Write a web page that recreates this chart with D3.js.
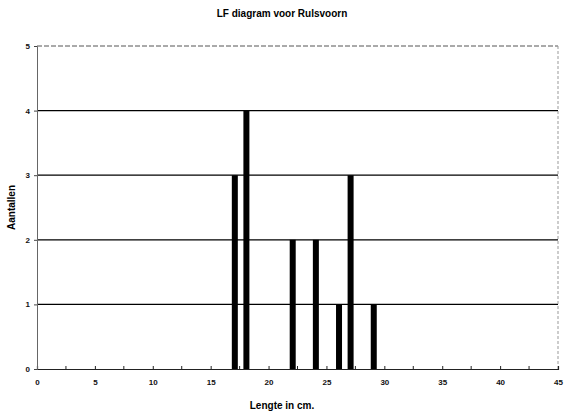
<!DOCTYPE html>
<html>
<head>
<meta charset="utf-8">
<script src="https://cdn.jsdelivr.net/npm/d3@7"></script>
<style>
  html, body { margin: 0; padding: 0; background: #fff; }
  svg { display: block; font-family: "Liberation Sans", Arial, sans-serif; }
</style>
</head>
<body>
<svg id="chart" width="564" height="415"></svg>
<script>
// Length-frequency data for Ruisvoorn
const lengths = [17, 18, 22, 24, 26, 27, 29];
const counts  = [3, 4, 2, 2, 1, 3, 1];
const xTickValues = [0, 5, 10, 15, 20, 25, 30, 35, 40, 45];
const xMinorTicks = [2.5, 7.5, 12.5, 17.5, 22.5, 27.5, 32.5, 37.5, 42.5];
const yTickValues = [0, 1, 2, 3, 4, 5];

const svg = d3.select("#chart");
const margin = { left: 37, right: 6, top: 46, bottom: 46 };
const W = 564, H = 415;

const x = d3.scaleLinear().domain([0, 45]).range([margin.left, W - margin.right]);
const y = d3.scaleLinear().domain([0, 5]).range([H - margin.bottom, margin.top]);

// Horizontal gridlines
svg.append("g")
  .selectAll("line")
  .data(yTickValues.filter(v => v > 0 && v < 5))
  .join("line")
  .attr("x1", x(0)).attr("x2", x(45))
  .attr("y1", d => y(d)).attr("y2", d => y(d))
  .attr("stroke", "#000").attr("stroke-width", 1.3);

// Top and right frame (light dashed)
svg.append("line")
  .attr("x1", x(0)).attr("x2", x(45))
  .attr("y1", y(5)).attr("y2", y(5))
  .attr("stroke", "#555").attr("stroke-width", 1)
  .attr("stroke-dasharray", "5,2");
svg.append("line")
  .attr("x1", x(45)).attr("x2", x(45))
  .attr("y1", y(5)).attr("y2", y(0))
  .attr("stroke", "#999").attr("stroke-width", 1)
  .attr("stroke-dasharray", "3,2");

// Bars
const barW = 6;
svg.append("g")
  .selectAll("rect")
  .data(lengths.map((l, i) => ({ l, c: counts[i] })))
  .join("rect")
  .attr("x", d => x(d.l) - barW / 2 + 1)
  .attr("width", barW)
  .attr("y", d => y(d.c))
  .attr("height", d => y(0) - y(d.c))
  .attr("fill", "#000");

// X axis
const xAxis = svg.append("g")
  .attr("transform", `translate(0,${y(0)})`)
  .call(d3.axisBottom(x).tickValues(xTickValues).tickSize(-3).tickPadding(10));
xAxis.select(".domain").attr("stroke", "#222").attr("stroke-width", 1.2);
xAxis.selectAll(".tick line").attr("stroke", "#222");
xAxis.selectAll("text")
  .attr("font-size", 8).attr("font-weight", "bold").attr("fill", "#111");

// Minor x ticks
svg.append("g")
  .selectAll("line")
  .data(xMinorTicks)
  .join("line")
  .attr("x1", d => x(d)).attr("x2", d => x(d))
  .attr("y1", y(0)).attr("y2", y(0) - 3)
  .attr("stroke", "#222");

// Y axis
const yAxis = svg.append("g")
  .attr("transform", `translate(${x(0)},0)`)
  .call(d3.axisLeft(y).tickValues(yTickValues).tickSize(3).tickPadding(4).tickFormat(d3.format("d")));
yAxis.select(".domain").attr("stroke", "#666");
yAxis.selectAll(".tick line").attr("stroke", "#444");
yAxis.selectAll("text")
  .attr("font-size", 8).attr("font-weight", "bold").attr("fill", "#111");

// Titles
svg.append("text")
  .attr("x", 282).attr("y", 17)
  .attr("text-anchor", "middle")
  .attr("font-size", 10).attr("font-weight", "bold")
  .text("LF diagram voor Rulsvoorn");

svg.append("text")
  .attr("x", 282).attr("y", 409)
  .attr("text-anchor", "middle")
  .attr("font-size", 10).attr("font-weight", "bold")
  .text("Lengte in cm.");

svg.append("text")
  .attr("transform", `translate(15,${(y(0) + y(5)) / 2}) rotate(-90)`)
  .attr("text-anchor", "middle")
  .attr("font-size", 10).attr("font-weight", "bold")
  .text("Aantallen");
</script>
</body>
</html>
